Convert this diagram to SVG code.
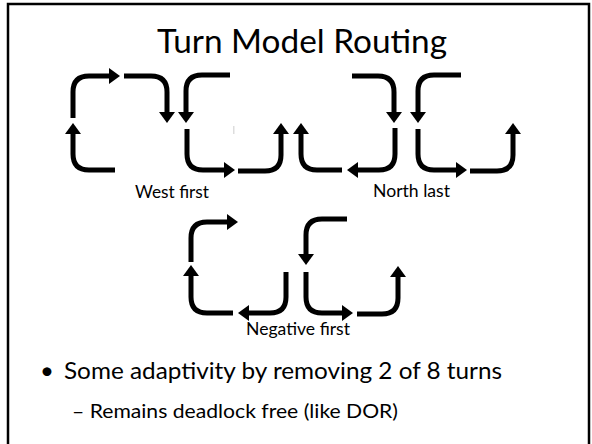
<svg xmlns="http://www.w3.org/2000/svg" width="592" height="444" viewBox="0 0 592 444">
  <style>
    .turn { fill: none; stroke: #000; stroke-width: 5; stroke-linecap: butt; stroke-linejoin: round; marker-end: url(#ah); }
    .txt { font-family: Lato, "Liberation Sans", sans-serif; fill: #000; }
  </style>
  <defs>
    <marker id="ah" viewBox="0 0 11 16" refX="0" refY="8" markerWidth="11" markerHeight="16" markerUnits="userSpaceOnUse" orient="auto">
      <path d="M0,0 L11,8 L0,16 Z" fill="#000"/>
    </marker>
  </defs>
  <rect x="0" y="0" width="592" height="444" fill="#fff"/>
  <rect x="8" y="4" width="581" height="460" fill="none" stroke="#000" stroke-width="2.5"/>

  <g id="title">
    <text class="txt" x="157" y="53" font-size="33" textLength="290" lengthAdjust="spacingAndGlyphs">Turn Model Routing</text>
  </g>

  <g id="west-first">
    <path class="turn" d="M73,118 V92 Q73,76 89,76 H109"/>
    <path class="turn" d="M124,76 H151 Q167,76 167,92 V112"/>
    <path class="turn" d="M230,75 H202 Q186,75 186,91 V112"/>
    <path class="turn" d="M115,170 H89 Q73,170 73,154 V134"/>
    <path class="turn" d="M187,129 V154 Q187,170 203,170 H224"/>
    <path class="turn" d="M238,171 H265 Q281,171 281,155 V134"/>
    <rect x="233" y="126" width="1.5" height="8" fill="#ddd"/>
    <text class="txt" x="135" y="198" font-size="16.5" textLength="74" lengthAdjust="spacingAndGlyphs">West first</text>
  </g>

  <g id="north-last">
    <path class="turn" d="M342,170 H317 Q301,170 301,154 V134"/>
    <path class="turn" d="M395,128 V154 Q395,170 379,170 H358"/>
    <path class="turn" d="M352,76 H378 Q394,76 394,92 V112"/>
    <path class="turn" d="M461,75 H434 Q418,75 418,91 V112"/>
    <path class="turn" d="M418,129 V154 Q418,170 434,170 H456"/>
    <path class="turn" d="M470,171 H497 Q513,171 513,155 V134"/>
    <text class="txt" x="373" y="197" font-size="16.5" textLength="77" lengthAdjust="spacingAndGlyphs">North last</text>
  </g>

  <g id="negative-first">
    <path class="turn" d="M191,262 V238 Q191,222 207,222 H227"/>
    <path class="turn" d="M233,313 H207 Q191,313 191,297 V276"/>
    <path class="turn" d="M286,272 V297 Q286,313 270,313 H249"/>
    <path class="turn" d="M347,219 H322 Q306,219 306,235 V254"/>
    <path class="turn" d="M306,272 V297 Q306,313 322,313 H342"/>
    <path class="turn" d="M357,314 H382 Q398,314 398,298 V277"/>
    <text class="txt" x="246" y="335" font-size="16.5" textLength="104" lengthAdjust="spacingAndGlyphs">Negative first</text>
  </g>

  <g id="bullets">
    <text class="txt" x="40" y="379" font-size="24">•</text>
    <text class="txt" x="64" y="379" font-size="24" textLength="438" lengthAdjust="spacingAndGlyphs">Some adaptivity by removing 2 of 8 turns</text>
    <text class="txt" x="72" y="418" font-size="20" textLength="326" lengthAdjust="spacingAndGlyphs">– Remains deadlock free (like DOR)</text>
  </g>
</svg>
